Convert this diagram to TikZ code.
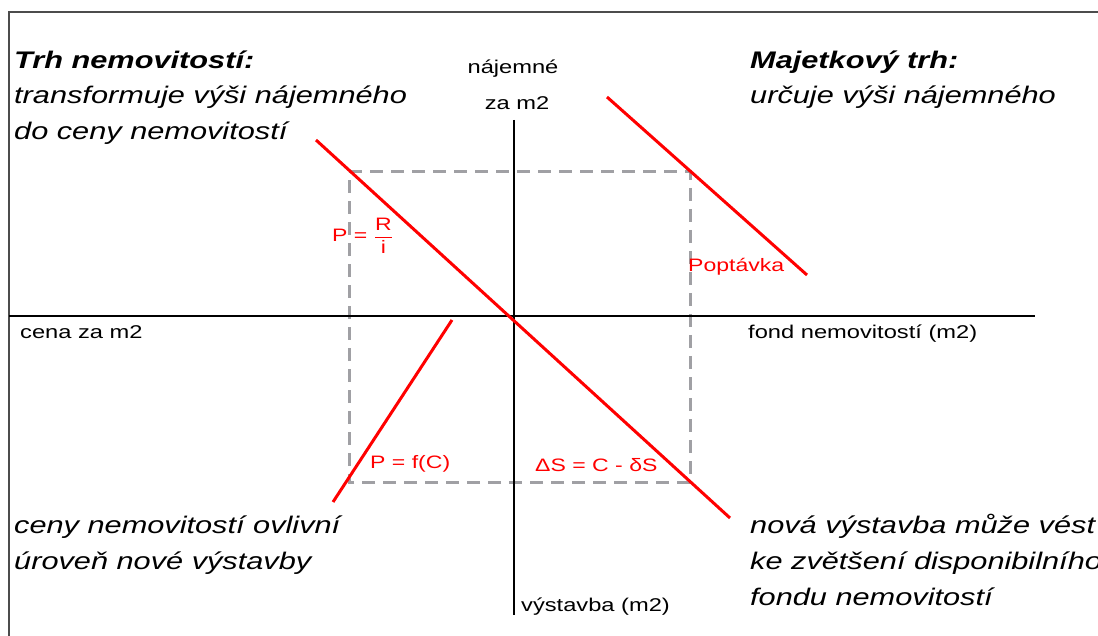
\documentclass[tikz,border=0pt]{standalone}
\usepackage{amsmath}
\usepackage{fontspec}
\setmainfont{Liberation Sans}[FakeStretch=1.28]
\usetikzlibrary{positioning}
\definecolor{curvered}{RGB}{255,0,0}
\definecolor{guidegray}{RGB}{160,160,164}
\tikzset{
  frame line/.style={line width=1.5pt,black!70},
  axis line/.style={line width=2.3pt,black},
  guide line/.style={line width=3pt,guidegray,dash pattern=on 13pt off 8pt},
  market curve/.style={line width=3pt,curvered},
  heading/.style={font=\fontsize{24}{30}\selectfont\bfseries\itshape,inner sep=0pt,anchor=base west},
  comment/.style={font=\fontsize{24}{30}\selectfont\itshape,inner sep=0pt,anchor=base west},
  axis label/.style={font=\fontsize{18.5}{22}\selectfont,inner sep=0pt,anchor=base},
  curve label/.style={font=\fontsize{18}{22}\selectfont,text=curvered,inner sep=0pt,anchor=base west}
}

\begin{document}
\begin{tikzpicture}[x=1pt,y=-1pt,line cap=butt,line join=miter]
  \useasboundingbox (0,0) rectangle (1098,636);
  \coordinate (f0) at (9,12);
  \coordinate (f1) at (1098,12);
  \coordinate (f2) at (9,636);
  \coordinate (o)  at (514,316);
  \coordinate (xl) at (9,316);
  \coordinate (xr) at (1035,316);
  \coordinate (yt) at (514,120);
  \coordinate (yb) at (514,615);
  \coordinate (g1) at (349,172);
  \coordinate (g2) at (690,172);
  \coordinate (g3) at (690,482);
  \coordinate (g4) at (349,482);
  \coordinate (p1) at (316,140);
  \coordinate (p2) at (730,518);
  \coordinate (d1) at (607,97);
  \coordinate (d2) at (807,275);
  \coordinate (c1) at (452,320);
  \coordinate (c2) at (333,502);

  \draw[frame line] (f2)--(f0)--(f1);
  \draw[guide line] (g1)--(g2)--(g3)--(g4)--cycle;
  \draw[axis line] (xl)--(xr) (yt)--(yb);
  \draw[market curve] (p1)--(p2) (d1)--(d2) (c1)--(c2);

  \node[heading] (tl1) at (14,69) {Trh nemovitostí:};
  \node[comment] (tl2) at (14,104) {transformuje výši nájemného};
  \node[comment] (tl3) at (14,140) {do ceny nemovitostí};
  \node[heading] (tr1) at (750,69) {Majetkový trh:};
  \node[comment] (tr2) at (750,104) {určuje výši nájemného};
  \node[comment] (bl1) at (14,533) {ceny nemovitostí ovlivní};
  \node[comment] (bl2) at (14,569) {úroveň nové výstavby};
  \node[comment] (br1) at (750,533) {nová výstavba může vést};
  \node[comment] (br2) at (750,569) {ke zvětšení disponibilního};
  \node[comment] (br3) at (750,605) {fondu nemovitostí};

  \node[axis label] (rent) at (513,74) {nájemné};
  \node[axis label] (perm) at (517,110) {za m2};
  \node[axis label,anchor=base west] (price) at (20,338) {cena za m2};
  \node[axis label,anchor=base west] (stock) at (748,338) {fond nemovitostí (m2)};
  \node[axis label,anchor=base west] (build) at (521,611) {výstavba (m2)};

  \node[curve label] (valuation) at (332,242) {P = \(\dfrac{\text{R}}{\text{i}}\)};
  \node[curve label] (demand) at (688,272) {Poptávka};
  \node[curve label] (supply) at (370,468) {P = f(C)};
  \node[curve label] (growth) at (535,471) {ΔS = C - δS};
\end{tikzpicture}
\end{document}
